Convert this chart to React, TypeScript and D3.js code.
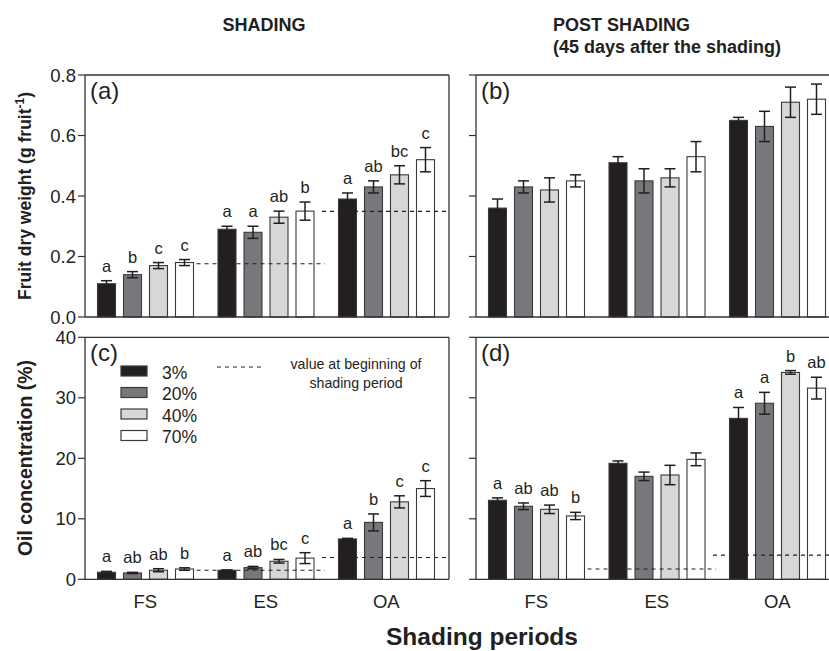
import React from "react";
import * as d3 from "d3";

const groups = ["FS", "ES", "OA"];
const treatments = ["3%", "20%", "40%", "70%"];
const fills = ["#231f20", "#77787b", "#d6d7d9", "#ffffff"];

const weightShading = [[0.11, 0.14, 0.17, 0.18], [0.29, 0.28, 0.33, 0.35], [0.39, 0.43, 0.47, 0.52]];
const weightShadingErr = [[0.01, 0.01, 0.01, 0.01], [0.01, 0.02, 0.02, 0.03], [0.02, 0.02, 0.03, 0.04]];
const weightShadingLetters = [["a", "b", "c", "c"], ["a", "a", "ab", "b"], ["a", "ab", "bc", "c"]];
const weightShadingBase = [0.176, 0.349];

const weightPost = [[0.36, 0.43, 0.42, 0.45], [0.51, 0.45, 0.46, 0.53], [0.65, 0.63, 0.71, 0.72]];
const weightPostErr = [[0.03, 0.02, 0.04, 0.02], [0.02, 0.04, 0.03, 0.05], [0.01, 0.05, 0.05, 0.05]];

const oilShading = [[1.16, 1.05, 1.5, 1.7], [1.49, 1.93, 2.98, 3.5], [6.67, 9.4, 12.8, 15.0]];
const oilShadingErr = [[0.15, 0.1, 0.25, 0.2], [0.05, 0.2, 0.3, 0.9], [0.1, 1.4, 1.0, 1.3]];
const oilShadingLetters = [["a", "ab", "ab", "b"], ["a", "ab", "bc", "c"], ["a", "b", "c", "c"]];
const oilShadingBase = [1.5, 3.6];

const oilPost = [[13.06, 12.07, 11.57, 10.47], [19.17, 17.02, 17.24, 19.83], [26.6, 29.1, 34.2, 31.6]];
const oilPostErr = [[0.4, 0.55, 0.7, 0.6], [0.4, 0.7, 1.6, 1.05], [1.8, 1.8, 0.3, 1.8]];
const oilPostLetters = [["a", "ab", "ab", "b"], [], ["a", "a", "b", "ab"]];
const oilPostBase = [1.7, 4.0];

const weightTicks = [0, 0.2, 0.4, 0.6, 0.8];
const oilTicks = [0, 10, 20, 30, 40];

const FONT = "'Liberation Sans', Arial, Helvetica, sans-serif";
const INK = "#231f20";
const W = 829;
const PW = 364;
const BANDS_W = 361.5;
const PH = 242;

type PanelProps = {
  x0: number;
  y0: number;
  domain: [number, number];
  ticks: number[];
  fmt: ((v: number) => string) | null;
  values: number[][];
  errs: number[][];
  letters?: string[][];
  baselines?: number[];
  label: string;
  showX?: boolean;
  children?: React.ReactNode;
};

function Panel({ x0, y0, domain, ticks, fmt, values, errs, letters, baselines, label, showX, children }: PanelProps) {
  const x = d3.scaleBand<string>().domain(groups).range([x0, x0 + BANDS_W]).padding(0);
  const inner = d3.scaleBand<string>().domain(treatments).range([12.5, 108.5]).paddingInner(8 / 26).paddingOuter(0);
  const y = d3.scaleLinear().domain(domain).range([y0 + PH, y0]);
  const bw = x.bandwidth();
  const ib = inner.bandwidth();
  const xr = x0 + PW;
  const frame = "#333";
  return (
    <g>
      {groups.map((g, gi) =>
        treatments.map((t, ti) => {
          const v = values[gi][ti];
          const bx = (x(g) as number) + (inner(t) as number);
          return (
            <rect key={g + t} x={bx} y={y(v)} width={ib} height={y(domain[0]) - y(v)}
              fill={fills[ti]} stroke="#3a3a3a" strokeWidth={1.1} />
          );
        })
      )}
      {groups.map((g, gi) =>
        treatments.map((t, ti) => {
          const v = values[gi][ti];
          const e = errs[gi][ti];
          const cx = (x(g) as number) + (inner(t) as number) + ib / 2;
          return (
            <g key={"e" + g + t} stroke={INK} strokeWidth={1.5}>
              <line x1={cx} x2={cx} y1={y(v - e)} y2={y(v + e)} />
              <line x1={cx - 5.5} x2={cx + 5.5} y1={y(v + e)} y2={y(v + e)} />
              <line x1={cx - 5.5} x2={cx + 5.5} y1={y(v - e)} y2={y(v - e)} />
            </g>
          );
        })
      )}
      {letters &&
        groups.map((g, gi) =>
          (letters[gi] || []).map((l, ti) => {
            const v = values[gi][ti];
            const e = errs[gi][ti];
            const cx = (x(g) as number) + (inner(treatments[ti]) as number) + ib / 2;
            return (
              <text key={"l" + g + ti} x={cx} y={y(v + e) - 9} textAnchor="middle" fontSize={16.5} fill={INK}>
                {l}
              </text>
            );
          })
        )}
      {baselines && (
        <g stroke={INK} strokeWidth={1.2} strokeDasharray="4 4">
          <line x1={(x("ES") as number) - 9} x2={(x("ES") as number) + bw - 1} y1={y(baselines[0])} y2={y(baselines[0])} />
          <line x1={(x("OA") as number) - 4} x2={Math.min(xr, W)} y1={y(baselines[1])} y2={y(baselines[1])} />
        </g>
      )}
      <g stroke={frame} strokeWidth={1.3}>
        <line x1={x0} x2={Math.min(xr, W + 2)} y1={y0} y2={y0} />
        <line x1={x0} x2={Math.min(xr, W + 2)} y1={y0 + PH} y2={y0 + PH} />
        <line x1={x0} x2={x0} y1={y0} y2={y0 + PH} />
        {xr < W && <line x1={xr} x2={xr} y1={y0} y2={y0 + PH} />}
      </g>
      {ticks.map((tv) => (
        <g key={"t" + tv}>
          <line x1={x0 - 7} x2={x0} y1={y(tv)} y2={y(tv)} stroke={frame} strokeWidth={1.2} />
          {fmt && (
            <text x={x0 - 9} y={y(tv)} dy="0.36em" textAnchor="end" fontSize={18.5} fill={INK}>
              {fmt(tv)}
            </text>
          )}
        </g>
      ))}
      {showX &&
        groups.map((g) => (
          <text key={"x" + g} x={(x(g) as number) + bw / 2} y={y0 + PH + 29} textAnchor="middle" fontSize={18.5} fill={INK}>
            {g}
          </text>
        ))}
      <text x={x0 + 5} y={y0 + 24} fontSize={24} fill={INK}>{label}</text>
      {children}
    </g>
  );
}

function Legend({ x0, y0 }: { x0: number; y0: number }) {
  return (
    <g>
      {treatments.map((t, i) => (
        <g key={t}>
          <rect x={x0} y={y0 + i * 21.5} width={26} height={10} fill={fills[i]} stroke="#3a3a3a" strokeWidth={1.2} />
          <text x={x0 + 41} y={y0 + i * 21.5 + 12.5} fontSize={17.5} fill={INK}>{t}</text>
        </g>
      ))}
      <line x1={x0 + 96} x2={x0 + 144} y1={y0 + 1} y2={y0 + 1} stroke={INK} strokeWidth={1.2} strokeDasharray="4 4" />
      <text x={x0 + 235} y={y0 + 3} textAnchor="middle" fontSize={14.2} fill={INK}>value at beginning of</text>
      <text x={x0 + 235} y={y0 + 22} textAnchor="middle" fontSize={14.2} fill={INK}>shading period</text>
    </g>
  );
}

export default function App() {
  const f1 = d3.format(".1f");
  const f0 = d3.format("d");
  return (
    <svg width={W} height={651} style={{ position: "absolute", left: 0, top: 0, background: "#fff" }} fontFamily={FONT}>
      <rect x={0} y={0} width={W} height={651} fill="#fff" />
      <text x={264} y={31} textAnchor="middle" fontSize={18} fontWeight="bold" fill={INK}>SHADING</text>
      <text x={553} y={31} fontSize={18} fontWeight="bold" fill={INK}>POST SHADING</text>
      <text x={553} y={53} fontSize={18} fontWeight="bold" fill={INK}>(45 days after the shading)</text>

      <Panel x0={85} y0={75} domain={[0, 0.8]} ticks={weightTicks} fmt={f1}
        values={weightShading} errs={weightShadingErr} letters={weightShadingLetters} baselines={weightShadingBase} label="(a)" />
      <Panel x0={476} y0={75} domain={[0, 0.8]} ticks={weightTicks} fmt={null}
        values={weightPost} errs={weightPostErr} label="(b)" />
      <Panel x0={85} y0={337.3} domain={[0, 40]} ticks={oilTicks} fmt={f0} showX
        values={oilShading} errs={oilShadingErr} letters={oilShadingLetters} baselines={oilShadingBase} label="(c)">
        <Legend x0={121} y0={366} />
      </Panel>
      <Panel x0={476} y0={337.3} domain={[0, 40]} ticks={oilTicks} fmt={null} showX
        values={oilPost} errs={oilPostErr} letters={oilPostLetters} baselines={oilPostBase} label="(d)" />

      <text transform="translate(31,196) rotate(-90)" textAnchor="middle" fontSize={17.5} fontWeight="bold" fill={INK}>
        Fruit dry weight (g fruit
        <tspan dy={-7} fontSize={12}>-1</tspan>
        <tspan dy={7}>)</tspan>
      </text>
      <text transform="translate(32,458) rotate(-90)" textAnchor="middle" fontSize={19.5} fontWeight="bold" fill={INK}>
        Oil concentration (%)
      </text>
      <text x={482} y={645} textAnchor="middle" fontSize={24.5} fontWeight="bold" fill={INK}>Shading periods</text>
    </svg>
  );
}
